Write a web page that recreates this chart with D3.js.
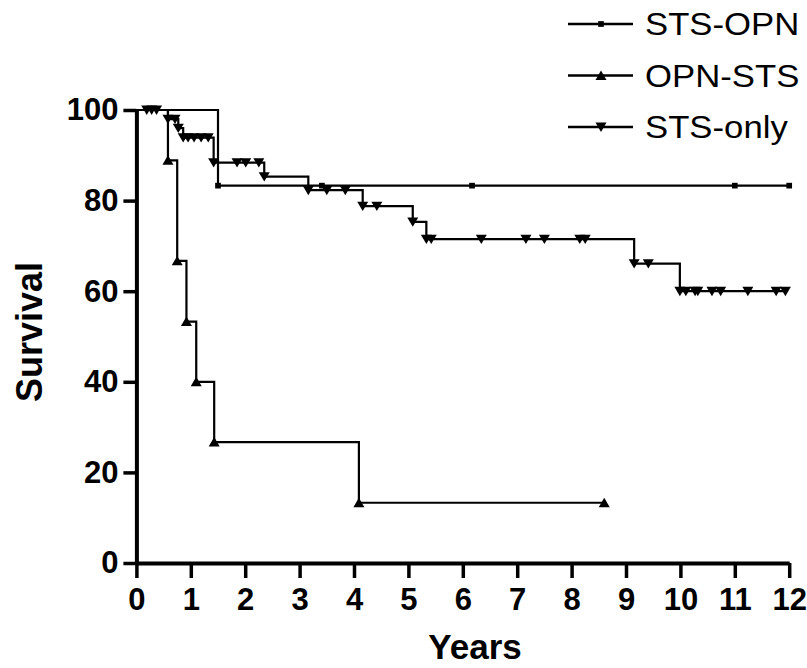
<!DOCTYPE html>
<html>
<head>
<meta charset="utf-8">
<script src="https://cdn.jsdelivr.net/npm/d3@7"></script>
<style>
  body { margin: 0; background: #fff; }
  text { font-family: "Liberation Sans", Arial, sans-serif; }
</style>
</head>
<body>
<div id="chart"></div>
<script>
// x ticks and y ticks
var xTicks = [0,1,2,3,4,5,6,7,8,9,10,11,12];
var yTicks = [0,20,40,60,80,100];
var seriesNames = ["STS-OPN", "OPN-STS", "STS-only"];

// STS-OPN group (squares)
var stsOpnEventT = [1.50];
var stsOpnEventS = [83.3];
var stsOpnCensT = [3.41, 6.17, 11.0, 12.0];

// OPN-STS group (up triangles)
var opnStsEventT = [0.58, 0.75, 0.92, 1.10, 1.43, 4.09];
var opnStsEventS = [88.9, 66.7, 53.3, 40.0, 26.7, 13.3];
var opnStsCensT = [8.60];

// STS-only group (down triangles)
var stsOnlyEventT = [0.58, 0.77, 0.86, 1.42, 2.35, 3.16, 4.16, 5.08, 5.33, 9.15, 9.99];
var stsOnlyEventS = [98.0, 96.0, 93.9, 88.4, 85.3, 82.3, 78.8, 75.3, 71.5, 66.1, 60.0];
var stsOnlyCensT = [0.19, 0.28, 0.37, 0.71, 0.95, 1.06, 1.19, 1.32, 1.85, 2.01, 2.25,
                    3.50, 3.84, 4.42, 5.42, 6.34, 7.16, 7.50, 8.15, 8.25, 9.41,
                    10.10, 10.27, 10.32, 10.58, 10.74, 11.24, 11.76, 11.93];

var width = 807, height = 668;

var x = d3.scaleLinear().domain([0, 12]).range([136.4, 789.2]);
var y = d3.scaleLinear().domain([0, 100]).range([563, 110]);

var svg = d3.select("#chart").append("svg")
    .attr("width", width)
    .attr("height", height);

svg.append("rect").attr("width", width).attr("height", height).attr("fill", "#fff");

// build the km points: start at 100, events step down, censored marks stay on level
function kmPoints(eventT, eventS, censT) {
    var pts = [{t: 0, s: 100, kind: "start"}];
    eventT.forEach((t, i) => pts.push({t: t, s: eventS[i], kind: "event"}));
    censT.forEach(t => pts.push({t: t, s: null, kind: "cens"}));
    pts.sort((a, b) => a.t - b.t || (a.kind == "event" ? -1 : 1));
    var level = 100;
    pts.forEach(p => {
        if (p.kind == "event") level = p.s;
        else p.s = level;
    });
    return pts;
}

var series = [
    {name: seriesNames[0], pts: kmPoints(stsOpnEventT, stsOpnEventS, stsOpnCensT), sym: d3.symbolSquare},
    {name: seriesNames[1], pts: kmPoints(opnStsEventT, opnStsEventS, opnStsCensT), sym: "up"},
    {name: seriesNames[2], pts: kmPoints(stsOnlyEventT, stsOnlyEventS, stsOnlyCensT), sym: "down"}
];

function markerPath(sym, size) {
    if (sym == "up") return "M0," + (-size * 0.45) + "L" + (size / 2) + "," + (size * 0.4) + "L" + (-size / 2) + "," + (size * 0.4) + "Z";
    if (sym == "down") return "M0," + (size * 0.45) + "L" + (size / 2) + "," + (-size * 0.4) + "L" + (-size / 2) + "," + (-size * 0.4) + "Z";
    return d3.symbol().type(sym).size(size * size * 0.4)();
}

var line = d3.line()
    .x(d => x(d.t))
    .y(d => y(d.s))
    .curve(d3.curveStepAfter);

// axes
var xAxis = svg.append("g")
    .attr("class", "x axis")
    .attr("transform", "translate(0," + y(0) + ")")
    .call(d3.axisBottom(x).tickValues(xTicks).tickSize(15).tickPadding(10).tickSizeOuter(0));

var yAxis = svg.append("g")
    .attr("class", "y axis")
    .attr("transform", "translate(" + x(0) + ",0)")
    .call(d3.axisLeft(y).tickValues(yTicks).tickSize(13).tickPadding(5).tickSizeOuter(0));

svg.selectAll(".axis .domain").attr("stroke", "#000").attr("stroke-width", 4);
svg.selectAll(".axis .tick line").attr("stroke", "#000").attr("stroke-width", 3.5);
svg.selectAll(".axis text")
    .attr("fill", "#000")
    .style("font-size", "31px")
    .style("font-weight", "bold");

// curves
series.forEach(sr => {
    svg.append("path")
        .attr("d", line(sr.pts))
        .attr("fill", "none")
        .attr("stroke", "#000")
        .attr("stroke-width", 2.2);

    svg.selectAll(null)
        .data(sr.pts.filter(p => p.kind != "start"))
        .enter()
        .append("path")
        .attr("transform", d => "translate(" + x(d.t) + "," + y(d.s) + ")")
        .attr("d", markerPath(sr.sym, sr.sym == d3.symbolSquare ? 9 : 11))
        .attr("fill", "#000");
});

// axis titles
svg.append("text")
    .attr("x", 475)
    .attr("y", 659)
    .style("text-anchor", "middle")
    .style("font-size", "35px")
    .style("font-weight", "bold")
    .text("Years");

svg.append("text")
    .attr("transform", "translate(42,332) rotate(-90)")
    .style("text-anchor", "middle")
    .style("font-size", "36px")
    .style("font-weight", "bold")
    .text("Survival");

// legend
var legend = svg.append("g").attr("class", "legend");
series.forEach((sr, i) => {
    var ly = 24 + i * 51.5;
    legend.append("line")
        .attr("x1", 568).attr("x2", 633)
        .attr("y1", ly).attr("y2", ly)
        .attr("stroke", "#000")
        .attr("stroke-width", 2.5);
    legend.append("path")
        .attr("transform", "translate(601," + ly + ")")
        .attr("d", markerPath(sr.sym, sr.sym == d3.symbolSquare ? 9 : 11))
        .attr("fill", "#000");
    legend.append("text")
        .attr("transform", "translate(645," + (ly + 11) + ") scale(1.12,1)")
        .style("font-size", "31px")
        .text(sr.name);
});
</script>
</body>
</html>
